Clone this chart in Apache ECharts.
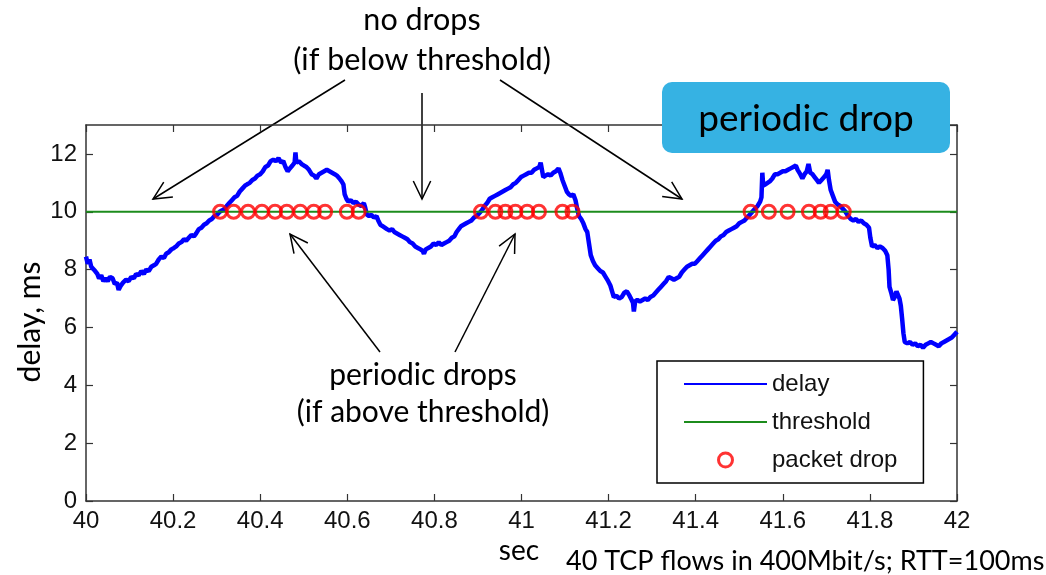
<!DOCTYPE html>
<html>
<head>
<meta charset="utf-8">
<title>delay vs threshold</title>
<script src="https://cdn.jsdelivr.net/npm/echarts@6/dist/echarts.min.js"></script>
<style>
  html, body { margin: 0; padding: 0; background: #fff; }
  #chart { width: 1046px; height: 575px; }
</style>
</head>
<body>
<div id="chart"></div>
<script>
// time in sec, queue delay in ms
var delayPoints = [
  [40.000, 8.45], [40.004, 8.2], [40.008, 8.35], [40.012, 8.1], [40.016, 8.15], [40.021, 7.95], [40.026, 7.85],
  [40.030, 7.7], [40.035, 7.8], [40.040, 7.6], [40.045, 7.7], [40.050, 7.6], [40.055, 7.75], [40.061, 7.7],
  [40.066, 7.5], [40.071, 7.55], [40.075, 7.3], [40.077, 7.25], [40.080, 7.45], [40.085, 7.55], [40.092, 7.65],
  [40.098, 7.6], [40.104, 7.75], [40.110, 7.7], [40.115, 7.85], [40.121, 7.8], [40.127, 7.95], [40.133, 7.85],
  [40.138, 8.0], [40.144, 7.95], [40.150, 8.1], [40.156, 8.15], [40.161, 8.2], [40.167, 8.35], [40.173, 8.45],
  [40.179, 8.4], [40.184, 8.55], [40.190, 8.6], [40.196, 8.7], [40.202, 8.75], [40.207, 8.8], [40.213, 8.9],
  [40.219, 8.95], [40.225, 9.05], [40.230, 9.0], [40.236, 9.1], [40.242, 9.2], [40.248, 9.15], [40.253, 9.25],
  [40.259, 9.4], [40.265, 9.45], [40.271, 9.55], [40.277, 9.6], [40.283, 9.7], [40.289, 9.75], [40.295, 9.85],
  [40.301, 9.9], [40.307, 10.0], [40.313, 10.05], [40.318, 10.1], [40.323, 10.2], [40.329, 10.3], [40.335, 10.4],
  [40.341, 10.5], [40.347, 10.55], [40.353, 10.7], [40.359, 10.8], [40.365, 10.9], [40.370, 10.95], [40.376, 11.0],
  [40.382, 11.1], [40.388, 11.15], [40.394, 11.25], [40.400, 11.3], [40.406, 11.4], [40.412, 11.55], [40.418, 11.6],
  [40.424, 11.75], [40.430, 11.8], [40.436, 11.75], [40.442, 11.85], [40.448, 11.7], [40.453, 11.75], [40.458, 11.55],
  [40.463, 11.4], [40.468, 11.5], [40.474, 11.6], [40.479, 11.7], [40.481, 12.05], [40.483, 11.7], [40.489, 11.75],
  [40.495, 11.65], [40.500, 11.6], [40.506, 11.55], [40.512, 11.45], [40.518, 11.3], [40.524, 11.25], [40.529, 11.15],
  [40.535, 11.3], [40.541, 11.35], [40.547, 11.4], [40.553, 11.45], [40.559, 11.4], [40.565, 11.35], [40.571, 11.3],
  [40.576, 11.25], [40.582, 11.15], [40.587, 11.05], [40.591, 10.95], [40.594, 10.6], [40.598, 10.45], [40.602, 10.35],
  [40.608, 10.4], [40.614, 10.3], [40.620, 10.35], [40.626, 10.25], [40.632, 10.2], [40.638, 10.3], [40.641, 10.15],
  [40.645, 9.9], [40.650, 9.85], [40.655, 9.9], [40.661, 9.8], [40.667, 9.85], [40.671, 9.7], [40.676, 9.55],
  [40.681, 9.5], [40.686, 9.45], [40.691, 9.4], [40.697, 9.35], [40.703, 9.4], [40.708, 9.3], [40.714, 9.25],
  [40.720, 9.2], [40.726, 9.15], [40.732, 9.1], [40.738, 9.05], [40.744, 8.95], [40.750, 8.9], [40.756, 8.8],
  [40.762, 8.75], [40.768, 8.7], [40.773, 8.65], [40.776, 8.55], [40.780, 8.7], [40.786, 8.75], [40.792, 8.8],
  [40.798, 8.9], [40.804, 8.85], [40.810, 8.95], [40.816, 8.85], [40.822, 8.9], [40.828, 8.95], [40.834, 9.0],
  [40.840, 9.1], [40.846, 9.15], [40.851, 9.3], [40.856, 9.4], [40.861, 9.5], [40.867, 9.55], [40.873, 9.6],
  [40.879, 9.65], [40.885, 9.7], [40.891, 9.8], [40.897, 9.85], [40.903, 9.95], [40.909, 10.05], [40.915, 10.2],
  [40.921, 10.3], [40.927, 10.45], [40.933, 10.5], [40.939, 10.55], [40.945, 10.6], [40.951, 10.65], [40.957, 10.7],
  [40.963, 10.75], [40.969, 10.8], [40.975, 10.85], [40.981, 10.95], [40.987, 11.0], [40.993, 11.1], [40.999, 11.2],
  [41.005, 11.25], [41.011, 11.3], [41.017, 11.35], [41.023, 11.35], [41.029, 11.45], [41.035, 11.5], [41.041, 11.55],
  [41.044, 11.7], [41.047, 11.45], [41.050, 11.2], [41.055, 11.25], [41.061, 11.3], [41.067, 11.25], [41.073, 11.35],
  [41.079, 11.4], [41.085, 11.5], [41.089, 11.35], [41.094, 11.1], [41.099, 10.9], [41.104, 10.7], [41.109, 10.6],
  [41.114, 10.55], [41.119, 10.6], [41.124, 10.4], [41.128, 10.1], [41.132, 9.85], [41.137, 9.75], [41.142, 9.6],
  [41.147, 9.4], [41.151, 9.3], [41.155, 8.9], [41.159, 8.5], [41.164, 8.3], [41.169, 8.15], [41.175, 8.05],
  [41.181, 7.95], [41.187, 7.9], [41.193, 7.75], [41.199, 7.6], [41.204, 7.45], [41.208, 7.25], [41.212, 7.05],
  [41.218, 7.1], [41.224, 7.0], [41.230, 7.05], [41.236, 7.2], [41.242, 7.25], [41.248, 7.1], [41.253, 6.95],
  [41.256, 6.85], [41.258, 6.55], [41.261, 6.9], [41.266, 6.95], [41.272, 6.9], [41.278, 6.95], [41.284, 7.0],
  [41.290, 6.95], [41.296, 7.05], [41.302, 7.1], [41.308, 7.2], [41.314, 7.3], [41.320, 7.4], [41.326, 7.5],
  [41.332, 7.6], [41.338, 7.75], [41.344, 7.7], [41.350, 7.65], [41.356, 7.7], [41.362, 7.75], [41.368, 7.9],
  [41.374, 8.0], [41.380, 8.1], [41.386, 8.15], [41.392, 8.2], [41.398, 8.2], [41.404, 8.3], [41.410, 8.4],
  [41.416, 8.5], [41.422, 8.6], [41.428, 8.7], [41.434, 8.8], [41.440, 8.9], [41.446, 9.0], [41.452, 9.05],
  [41.458, 9.15], [41.464, 9.2], [41.470, 9.3], [41.476, 9.35], [41.482, 9.4], [41.488, 9.45], [41.494, 9.5],
  [41.500, 9.6], [41.506, 9.65], [41.512, 9.7], [41.518, 9.8], [41.524, 9.9], [41.530, 10.0], [41.536, 10.1],
  [41.542, 10.2], [41.548, 10.35], [41.551, 10.5], [41.553, 11.35], [41.555, 10.9], [41.560, 10.95], [41.565, 11.0],
  [41.570, 11.05], [41.576, 11.15], [41.582, 11.3], [41.588, 11.3], [41.594, 11.35], [41.600, 11.4], [41.606, 11.4],
  [41.612, 11.45], [41.618, 11.5], [41.624, 11.55], [41.630, 11.6], [41.634, 11.45], [41.640, 11.3], [41.645, 11.15],
  [41.650, 11.3], [41.655, 11.4], [41.659, 11.65], [41.663, 11.35], [41.668, 11.3], [41.673, 11.2], [41.678, 11.1],
  [41.683, 11.0], [41.689, 11.1], [41.695, 11.2], [41.700, 11.3], [41.703, 11.45], [41.706, 11.1], [41.710, 10.75],
  [41.715, 10.55], [41.720, 10.35], [41.726, 10.25], [41.732, 10.2], [41.738, 10.1], [41.744, 10.0], [41.750, 9.85],
  [41.756, 9.75], [41.762, 9.7], [41.768, 9.75], [41.774, 9.65], [41.780, 9.7], [41.786, 9.6], [41.792, 9.55],
  [41.798, 9.45], [41.801, 9.1], [41.805, 8.8], [41.811, 8.85], [41.817, 8.75], [41.823, 8.8], [41.829, 8.75],
  [41.835, 8.65], [41.840, 8.5], [41.843, 8.0], [41.845, 7.4], [41.849, 7.2], [41.853, 6.95], [41.857, 7.05],
  [41.861, 7.25], [41.865, 7.2], [41.868, 7.0], [41.871, 6.75], [41.874, 6.3], [41.877, 5.8], [41.880, 5.5],
  [41.886, 5.45], [41.892, 5.5], [41.898, 5.4], [41.904, 5.45], [41.910, 5.35], [41.916, 5.4], [41.922, 5.3],
  [41.928, 5.4], [41.934, 5.45], [41.940, 5.5], [41.946, 5.45], [41.952, 5.4], [41.958, 5.35], [41.964, 5.45],
  [41.970, 5.5], [41.976, 5.55], [41.982, 5.6], [41.988, 5.65], [41.994, 5.75], [42.000, 5.85]
];

var thresholdValue = 10;
var thresholdTimes = [40, 42];

// times at which a packet was dropped (marked on the threshold line)
var dropTimes = [
  40.308, 40.339, 40.372, 40.404, 40.434, 40.461, 40.492, 40.523, 40.549, 40.599, 40.626,
  40.907, 40.940, 40.963, 40.986, 41.013, 41.040, 41.094, 41.117,
  41.526, 41.568, 41.611, 41.660, 41.687, 41.710, 41.740
];

var xTicks = { min: 40, max: 42, step: 0.2 };
var yTicks = { min: 0, max: 13, step: 2 };

var seriesNames = ['delay', 'threshold', 'packet drop'];

var chart = echarts.init(document.getElementById('chart'), null, { renderer: 'canvas' });

var tickFont = '"Liberation Sans", Arial, sans-serif';
var slideFont = 'Lato, "Open Sans", sans-serif';
var axisColor = '#333';

function arrow(x1, y1, x2, y2) {
  // shaft plus an open V head at (x2, y2)
  var ang = Math.atan2(y2 - y1, x2 - x1);
  var len = 20, spread = 0.45;
  var a1 = ang + Math.PI - spread, a2 = ang + Math.PI + spread;
  return [
    { type: 'line', shape: { x1: x1, y1: y1, x2: x2, y2: y2 }, style: { stroke: '#000', lineWidth: 1.5 } },
    { type: 'polyline', shape: { points: [
        [x2 + len * Math.cos(a1), y2 + len * Math.sin(a1)], [x2, y2],
        [x2 + len * Math.cos(a2), y2 + len * Math.sin(a2)] ] },
      style: { stroke: '#000', lineWidth: 1.5, fill: null } }
  ];
}

var annot = [].concat(
  arrow(345, 80, 153, 199),
  arrow(422, 93, 422, 199),
  arrow(500, 80, 682, 199),
  arrow(380, 352, 290, 234),
  arrow(455, 352, 515, 234)
);

function boxAxis(extra) {
  var ax = {
    type: 'value',
    axisLine: { show: true, onZero: false, lineStyle: { color: axisColor, width: 1.5 } },
    axisTick: { show: true, inside: true, length: 7, lineStyle: { color: axisColor, width: 1.2 } },
    splitLine: { show: false }
  };
  for (var k in extra) ax[k] = extra[k];
  return ax;
}

var option = {
  animation: false,
  backgroundColor: '#fff',
  grid: { left: 86, right: 89, top: 125, bottom: 74, containLabel: false },
  xAxis: [
    boxAxis({ position: 'bottom', min: xTicks.min, max: xTicks.max, interval: xTicks.step,
      axisLabel: { color: '#111', fontFamily: tickFont, fontSize: 24, margin: 8 } }),
    boxAxis({ position: 'top', min: xTicks.min, max: xTicks.max, interval: xTicks.step,
      axisLabel: { show: false } })
  ],
  yAxis: [
    boxAxis({ position: 'left', min: yTicks.min, max: yTicks.max, interval: yTicks.step,
      axisLabel: { color: '#111', fontFamily: tickFont, fontSize: 24, margin: 9, showMaxLabel: false } }),
    boxAxis({ position: 'right', min: yTicks.min, max: yTicks.max, interval: yTicks.step,
      axisLabel: { show: false } })
  ],
  legend: {
    orient: 'vertical', left: 657, top: 361,
    padding: [11, 26, 11, 27],
    itemWidth: 83, itemHeight: 14, itemGap: 14,
    backgroundColor: '#fff', borderColor: '#000', borderWidth: 1.5, borderRadius: 0,
    textStyle: { fontFamily: tickFont, fontSize: 24, color: '#111', lineHeight: 24 },
    data: [
      { name: seriesNames[0], icon: 'path://M0,0 L83,0 L83,2 L0,2 Z' },
      { name: seriesNames[1], icon: 'path://M0,0 L83,0 L83,2 L0,2 Z' },
      { name: seriesNames[2], icon: 'circle',
        itemStyle: { color: 'none', borderColor: '#ff0000', borderWidth: 3 } }
    ]
  },
  series: [{
    name: seriesNames[0], type: 'line', data: delayPoints,
    showSymbol: false, symbol: 'none',
    lineStyle: { color: '#0000ff', width: 4.5 }, itemStyle: { color: '#0000ff' }, z: 2
  }, {
    name: seriesNames[1], type: 'line',
    data: thresholdTimes.map(function (t) { return [t, thresholdValue]; }),
    showSymbol: false, symbol: 'none',
    lineStyle: { color: '#1c8c1c', width: 2 }, itemStyle: { color: '#1c8c1c' }, z: 3
  }, {
    name: seriesNames[2], type: 'scatter',
    data: dropTimes.map(function (t) { return [t, thresholdValue]; }),
    symbol: 'circle', symbolSize: 13,
    itemStyle: { color: 'none', borderColor: '#ff0000', borderWidth: 3 }, z: 4
  }],
  graphic: annot.concat([
    { type: 'text', x: 422, y: 20, style: { text: 'no drops', font: '30.5px ' + slideFont, fill: '#000', align: 'center', verticalAlign: 'middle' } },
    { type: 'text', x: 422, y: 60, style: { text: '(if below threshold)', font: '30.5px ' + slideFont, fill: '#000', align: 'center', verticalAlign: 'middle' } },
    { type: 'text', x: 423, y: 375, style: { text: 'periodic drops', font: '30px ' + slideFont, fill: '#000', align: 'center', verticalAlign: 'middle' } },
    { type: 'text', x: 423, y: 412, style: { text: '(if above threshold)', font: '30px ' + slideFont, fill: '#000', align: 'center', verticalAlign: 'middle' } },
    { type: 'rect', shape: { x: 662, y: 82, width: 288, height: 71, r: 10 }, style: { fill: '#36b2e3' }, z: 100 },
    { type: 'text', x: 806, y: 119, z: 101, style: { text: 'periodic drop', font: '37px ' + slideFont, fill: '#000', align: 'center', verticalAlign: 'middle' } },
    { type: 'text', x: 30, y: 322, rotation: Math.PI / 2, style: { text: 'delay, ms', font: '30px ' + slideFont, fill: '#000', align: 'center', verticalAlign: 'middle' } },
    { type: 'text', x: 519, y: 551, style: { text: 'sec', font: '28px ' + slideFont, fill: '#000', align: 'center', verticalAlign: 'middle' } },
    { type: 'text', x: 566, y: 561, style: { text: '40 TCP flows in 400Mbit/s; RTT=100ms', font: '27px ' + slideFont, fill: '#000', align: 'left', verticalAlign: 'middle' } }
  ])
};

chart.setOption(option);
</script>
</body>
</html>
